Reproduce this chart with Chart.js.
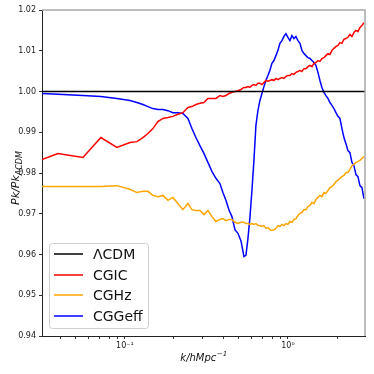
<!DOCTYPE html>
<html>
<head>
<meta charset="utf-8">
<script src="https://cdn.jsdelivr.net/npm/chart.js@4.4.0/dist/chart.umd.min.js"></script>
<style>
  body { margin: 0; background: #fff; }
  canvas { display: block; }
</style>
</head>
<body>
<canvas id="pkChart" width="374" height="374"></canvas>
<script>
// wavenumbers k (h/Mpc)
const kValues = [
  0.03095, 0.03882, 0.05525, 0.07124, 0.08931, 0.1073,
  0.1185, 0.1290, 0.1384, 0.1485, 0.1594, 0.1710, 0.1836, 0.1970, 0.2114, 0.2269,
  0.2435, 0.2576, 0.2726, 0.2884, 0.3052, 0.3229, 0.3417, 0.3616, 0.3826,
  0.3992, 0.4165, 0.4345, 0.4534, 0.4731, 0.4935, 0.5149, 0.5372,
  0.5526, 0.5684, 0.5846, 0.6014, 0.6186, 0.6363, 0.6545, 0.6733, 0.6926, 0.7124,
  0.7328, 0.7538, 0.7754, 0.7977, 0.8205, 0.8440, 0.8683, 0.8932, 0.9188, 0.9451,
  0.9721, 1.0000, 1.0287, 1.0581, 1.0884, 1.1196, 1.1517, 1.1847, 1.2187, 1.2536,
  1.2895, 1.3265, 1.3645, 1.4036, 1.4438, 1.4852, 1.5277, 1.5715, 1.6166, 1.6629,
  1.7105, 1.7596, 1.8100, 1.8618, 1.9152, 1.9701, 2.0265, 2.0846, 2.1443, 2.2058,
  2.2690, 2.3340, 2.4009, 2.4697, 2.5404, 2.6132, 2.6881, 2.7651, 2.8443, 2.9258
];

const cgic = [
  0.9833, 0.9848, 0.9838, 0.9887, 0.9863, 0.9875,
  0.9877, 0.9887, 0.9897, 0.9909, 0.9926, 0.9934, 0.9936, 0.9939, 0.9944, 0.9948,
  0.9961, 0.9963, 0.9968, 0.9971, 0.9973, 0.9983, 0.9983, 0.9983, 0.9990,
  0.9988, 0.9990, 0.9995, 0.9998, 1.0000, 1.0002, 1.0005, 1.0010,
  1.0010, 1.0012, 1.0010, 1.0015, 1.0017, 1.0015, 1.0020, 1.0020, 1.0017, 1.0022,
  1.0027, 1.0025, 1.0027, 1.0029, 1.0027, 1.0032, 1.0029, 1.0032, 1.0034, 1.0032,
  1.0037, 1.0039, 1.0039, 1.0044, 1.0042, 1.0047, 1.0049, 1.0052, 1.0049, 1.0056,
  1.0056, 1.0061, 1.0064, 1.0061, 1.0069, 1.0071, 1.0076, 1.0074, 1.0081, 1.0083,
  1.0088, 1.0093, 1.0091, 1.0101, 1.0106, 1.0110, 1.0113, 1.0120, 1.0118, 1.0128,
  1.0130, 1.0133, 1.0140, 1.0135, 1.0145, 1.0150, 1.0147, 1.0157, 1.0162, 1.0169
];

const cghz = [
  0.9767, 0.9767, 0.9767, 0.9767, 0.9769, 0.9760,
  0.9752, 0.9755, 0.9755, 0.9745, 0.9742, 0.9745, 0.9733, 0.9740, 0.9725, 0.9710,
  0.9725, 0.9710, 0.9708, 0.9708, 0.9698, 0.9708, 0.9693, 0.9681, 0.9686,
  0.9688, 0.9683, 0.9686, 0.9686, 0.9679, 0.9676, 0.9679, 0.9679,
  0.9676, 0.9676, 0.9674, 0.9676, 0.9674, 0.9676, 0.9671, 0.9671, 0.9669, 0.9671,
  0.9664, 0.9666, 0.9661, 0.9659, 0.9661, 0.9664, 0.9671, 0.9669, 0.9674, 0.9671,
  0.9676, 0.9674, 0.9681, 0.9679, 0.9686, 0.9688, 0.9696, 0.9701, 0.9703, 0.9710,
  0.9710, 0.9718, 0.9720, 0.9728, 0.9725, 0.9735, 0.9740, 0.9745, 0.9742, 0.9752,
  0.9750, 0.9757, 0.9764, 0.9767, 0.9772, 0.9779, 0.9782, 0.9787, 0.9791, 0.9794,
  0.9801, 0.9801, 0.9809, 0.9818, 0.9821, 0.9826, 0.9828, 0.9831, 0.9836, 0.9840
];

const cggeff = [
  0.9995, 0.9993, 0.9990, 0.9988, 0.9983, 0.9978,
  0.9973, 0.9968, 0.9963, 0.9958, 0.9956, 0.9956, 0.9953, 0.9948, 0.9948, 0.9946,
  0.9934, 0.9909, 0.9887, 0.9867, 0.9848, 0.9826, 0.9804, 0.9787, 0.9774,
  0.9752, 0.9733, 0.9710, 0.9693, 0.9661, 0.9652, 0.9634, 0.9595,
  0.9598, 0.9639, 0.9691, 0.9757, 0.9831, 0.9917, 0.9953, 0.9978, 0.9995, 1.0012,
  1.0027, 1.0039, 1.0052, 1.0069, 1.0076, 1.0088, 1.0101, 1.0118, 1.0125, 1.0135,
  1.0142, 1.0133, 1.0125, 1.0137, 1.0130, 1.0135, 1.0125, 1.0118, 1.0101, 1.0093,
  1.0088, 1.0083, 1.0081, 1.0076, 1.0071, 1.0064, 1.0047, 1.0027, 1.0010, 0.9998,
  0.9990, 0.9983, 0.9973, 0.9966, 0.9958, 0.9948, 0.9939, 0.9934, 0.9909, 0.9887,
  0.9872, 0.9855, 0.9850, 0.9826, 0.9818, 0.9796, 0.9791, 0.9769, 0.9764, 0.9737
];

// reference line
const lcdmK = [0.03, 3.0];
const lcdm = [1.0, 1.0];

const seriesNames = ['ΛCDM', 'CGIC', 'CGHz', 'CGGeff'];
const seriesColors = ['#000000', '#ff0000', '#ffa500', '#0000ff'];

const yTicks = [0.94, 0.95, 0.96, 0.97, 0.98, 0.99, 1.00, 1.01, 1.02];
const xTicks = [0.04, 0.05, 0.06, 0.07, 0.08, 0.09, 0.1, 0.2, 0.3, 0.4, 0.5, 0.6, 0.7, 0.8, 0.9, 1, 2];
const xTickLabels = { 0.1: '10⁻¹', 1: '10⁰' };

const toPoints = (xs, ys) => xs.map((x, i) => ({ x: x, y: ys[i] }));
const allSeries = [toPoints(lcdmK, lcdm), toPoints(kValues, cgic), toPoints(kValues, cghz), toPoints(kValues, cggeff)];

const FONT = '"DejaVu Sans", sans-serif';

// frame, axis titles and legend
const decorations = {
  id: 'decorations',
  afterDatasetsDraw(chart) {
    const ctx = chart.ctx;
    const a = chart.chartArea;
    ctx.save();
    // top + right spines
    ctx.strokeStyle = '#a8a8a8';
    ctx.lineWidth = 1.5;
    ctx.beginPath();
    ctx.moveTo(a.left, a.top);
    ctx.lineTo(a.right, a.top);
    ctx.lineTo(a.right, a.bottom);
    ctx.stroke();

    // legend
    const lx = 49, ly = 243, lw = 99, lh = 85;
    ctx.fillStyle = 'rgba(255,255,255,0.85)';
    ctx.strokeStyle = '#d0d0d0';
    ctx.lineWidth = 1;
    ctx.beginPath();
    ctx.roundRect(lx + 0.5, ly + 0.5, lw, lh, 3);
    ctx.fill();
    ctx.stroke();
    const rows = [254, 275, 295, 316];
    ctx.font = '14px ' + FONT;
    ctx.textBaseline = 'middle';
    seriesNames.forEach((name, i) => {
      ctx.strokeStyle = seriesColors[i];
      ctx.lineWidth = 1.5;
      ctx.beginPath();
      ctx.moveTo(54, rows[i]);
      ctx.lineTo(83, rows[i]);
      ctx.stroke();
      ctx.fillStyle = '#111';
      ctx.fillText(name, 93, rows[i] + 1);
    });

    // x axis title
    ctx.fillStyle = '#111';
    ctx.textBaseline = 'alphabetic';
    ctx.font = 'italic 10px ' + FONT;
    const xMain = 'k/hMpc';
    ctx.font = 'italic 7px ' + FONT;
    const xSup = '−1';
    const wSup = ctx.measureText(xSup).width;
    ctx.font = 'italic 10px ' + FONT;
    const wMain = ctx.measureText(xMain).width;
    const xStart = (a.left + a.right) / 2 - (wMain + wSup) / 2;
    ctx.fillText(xMain, xStart, 361);
    ctx.font = 'italic 7px ' + FONT;
    ctx.fillText(xSup, xStart + wMain + 0.5, 356);

    // y axis title
    ctx.translate(19, 178);
    ctx.rotate(-Math.PI / 2);
    ctx.font = 'italic 11px ' + FONT;
    const yMain = 'Pk/Pk';
    const wy = ctx.measureText(yMain).width;
    ctx.font = 'italic 8px ' + FONT;
    const ySub = 'ΛCDM';
    const wys = ctx.measureText(ySub).width;
    const y0 = -(wy + wys) / 2;
    ctx.font = 'italic 11px ' + FONT;
    ctx.fillText(yMain, y0, 0);
    ctx.font = 'italic 8px ' + FONT;
    ctx.fillText(ySub, y0 + wy, 3);
    ctx.restore();
  }
};

new Chart(document.getElementById('pkChart'), {
  type: 'line',
  data: {
    datasets: allSeries.map((pts, i) => ({
      label: seriesNames[i],
      data: pts,
      borderColor: seriesColors[i],
      borderWidth: 1.5,
      pointRadius: 0,
      tension: 0,
      fill: false
    }))
  },
  options: {
    responsive: false,
    animation: false,
    layout: { padding: { left: 0, top: 10, right: 9, bottom: 0 } },
    plugins: { legend: { display: false }, tooltip: { enabled: false } },
    scales: {
      x: {
        type: 'logarithmic',
        min: 0.031,
        max: 2.97,
        afterFit: s => { s.height = 38; },
        afterBuildTicks: s => { s.ticks = xTicks.map(v => ({ value: v })); },
        border: { color: '#222', width: 1 },
        grid: { display: true, drawOnChartArea: false, drawTicks: true, tickLength: 3, tickColor: '#333' },
        ticks: {
          autoSkip: false,
          maxRotation: 0,
          padding: 2,
          color: '#222',
          font: { family: FONT, size: 8 },
          callback: v => {
            for (const key in xTickLabels) {
              if (Math.abs(v - Number(key)) < 1e-9) return xTickLabels[key];
            }
            return '';
          }
        }
      },
      y: {
        min: 0.94,
        max: 1.02,
        afterFit: s => { s.width = 42; },
        afterBuildTicks: s => { s.ticks = yTicks.map(v => ({ value: v })); },
        border: { color: '#222', width: 1 },
        grid: { display: true, drawOnChartArea: false, drawTicks: true, tickLength: 3, tickColor: '#333' },
        ticks: {
          padding: 3,
          color: '#222',
          font: { family: FONT, size: 8 },
          callback: v => v.toFixed(2)
        }
      }
    }
  },
  plugins: [decorations]
});
</script>
</body>
</html>
